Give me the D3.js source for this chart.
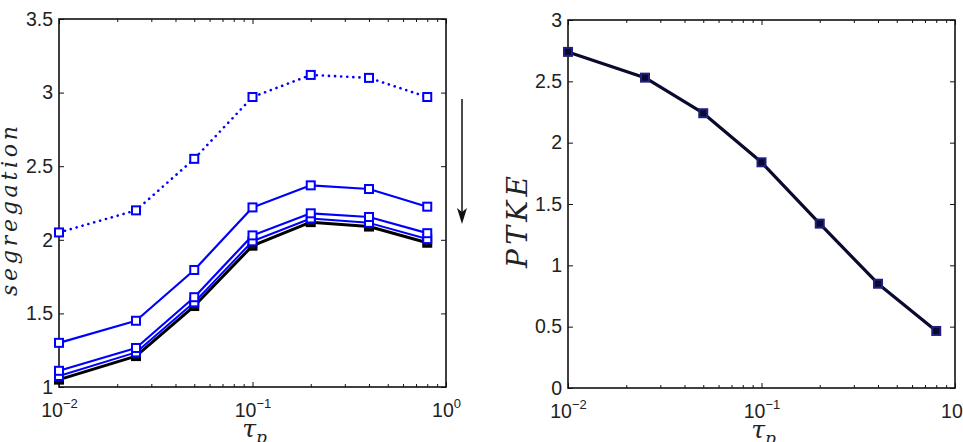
<!DOCTYPE html>
<html>
<head>
<meta charset="utf-8">
<script src="https://d3js.org/d3.v7.min.js"></script>
<style>
  html, body { margin: 0; padding: 0; background: #fff; }
  svg { display: block; }
  .tick text { font-family: "Liberation Sans", Arial, sans-serif; font-size: 19.5px; fill: #222; }
  .lbl { font-family: "DejaVu Serif", "Liberation Serif", serif; font-style: italic; fill: #222; }
</style>
</head>
<body>
<svg id="chart" width="963" height="442"></svg>
<script>
// particle response time (x values, both panels)
const tauP = [0.01, 0.025, 0.05, 0.1, 0.2, 0.4, 0.8];

// left panel: segregation, top curve first (arrow points down through the set)
const segDotted = [2.05, 2.20, 2.55, 2.97, 3.12, 3.10, 2.97];
const segBlueA  = [1.30, 1.45, 1.795, 2.22, 2.37, 2.345, 2.225];
const segBlueB  = [1.11, 1.265, 1.61, 2.03, 2.18, 2.155, 2.045];
const segBlueC  = [1.075, 1.235, 1.575, 1.99, 2.145, 2.115, 2.005];
const segBlack  = [1.05, 1.21, 1.55, 1.96, 2.12, 2.09, 1.98];

// right panel: PTKE
const ptke = [2.74, 2.53, 2.24, 1.84, 1.34, 0.85, 0.465];

const segTicks = [1, 1.5, 2, 2.5, 3, 3.5];
const ptkeTicks = [0, 0.5, 1, 1.5, 2, 2.5, 3];
const xMajor = [0.01, 0.1, 1];
const xMinor = [];
[0.01, 0.1].forEach(d => { for (let k = 2; k <= 9; k++) xMinor.push(d * k); });

const svg = d3.select('#chart');

function drawPanel(opts) {
    const { left, top, width, height, yDomain, yTicks, yLabel, yLabelX, yLabelLen } = opts;
    const g = svg.append('g').attr('transform', `translate(${left},${top})`);

    const x = d3.scaleLog().domain([0.01, 1]).range([0, width]);
    const y = d3.scaleLinear().domain(yDomain).range([height, 0]);

    // minor x ticks (bottom + top)
    g.append('g').attr('transform', `translate(0,${height})`)
        .call(d3.axisBottom(x).tickValues(xMinor).tickSize(-3).tickFormat(''))
        .call(s => s.select('.domain').remove());
    g.append('g')
        .call(d3.axisTop(x).tickValues(xMinor).tickSize(-3).tickFormat(''))
        .call(s => s.select('.domain').remove());

    // major x ticks with 10^n labels
    const xb = g.append('g').attr('transform', `translate(0,${height})`)
        .call(d3.axisBottom(x).tickValues(xMajor).tickSize(-5).tickPadding(16));
    xb.select('.domain').remove();
    xb.selectAll('.tick text').each(function (d) {
        const t = d3.select(this).text(null);
        const e = Math.round(Math.log10(d));
        t.append('tspan').text('10');
        t.append('tspan').attr('dy', -9).style('font-size', '13px')
            .text(e < 0 ? '\u2212' + (-e) : String(e));
    });
    g.append('g')
        .call(d3.axisTop(x).tickValues(xMajor).tickSize(-5).tickFormat(''))
        .call(s => s.select('.domain').remove());

    // y ticks left (labelled) and right
    g.append('g')
        .call(d3.axisLeft(y).tickValues(yTicks).tickSize(-5).tickPadding(6).tickFormat(d3.format('')))
        .call(s => s.select('.domain').remove());
    g.append('g').attr('transform', `translate(${width},0)`)
        .call(d3.axisRight(y).tickValues(yTicks).tickSize(-5).tickFormat(''))
        .call(s => s.select('.domain').remove());

    g.selectAll('.tick line').attr('stroke', '#111').attr('stroke-width', 1);

    // box
    g.append('rect').attr('width', width).attr('height', height)
        .attr('fill', 'none').attr('stroke', '#111').attr('stroke-width', 1.6);

    // x label tau_p
    const xl = svg.append('text').attr('class', 'lbl')
        .attr('x', left + width / 2 + 2).attr('y', top + height + 50)
        .attr('text-anchor', 'middle').style('font-size', '25px');
    xl.append('tspan').text('\u03C4');
    xl.append('tspan').attr('dy', 6).style('font-size', '17px').text('p');

    // y label
    svg.append('text').attr('class', 'lbl')
        .attr('transform', `translate(${yLabelX},${top + height / 2 + opts.yLabelShift}) rotate(-90)`)
        .attr('text-anchor', 'middle')
        .attr('textLength', yLabelLen).attr('lengthAdjust', 'spacing')
        .style('font-size', opts.yLabelSize)
        .text(yLabel);

    return { g, x, y };
}

function drawSeries(p, values, style) {
    const line = d3.line().x((d, i) => p.x(tauP[i])).y(d => p.y(d));
    p.g.append('path').datum(values)
        .attr('d', line)
        .attr('fill', 'none')
        .attr('stroke', style.color)
        .attr('stroke-width', style.width)
        .attr('stroke-dasharray', style.dash || null)
        .attr('stroke-linecap', style.dash ? 'round' : 'butt')
        .attr('stroke-linejoin', 'round');
    const m = 8;
    p.g.append('g').selectAll('rect').data(values).join('rect')
        .attr('x', (d, i) => p.x(tauP[i]) - m / 2)
        .attr('y', d => p.y(d) - m / 2)
        .attr('width', m).attr('height', m)
        .attr('fill', style.fill || '#fff')
        .attr('stroke', style.marker || style.color)
        .attr('stroke-width', 2);
}

// left panel
const pL = drawPanel({
    left: 59, top: 19, width: 387, height: 368,
    yDomain: [1, 3.5], yTicks: segTicks,
    yLabel: 'segregation', yLabelX: 17, yLabelLen: 170, yLabelShift: 8, yLabelSize: '22px'
});
drawSeries(pL, segBlack,  { color: '#000', width: 3, fill: '#111', marker: '#000' });
drawSeries(pL, segBlueC,  { color: '#0000ff', width: 2 });
drawSeries(pL, segBlueB,  { color: '#0000ff', width: 2.2 });
drawSeries(pL, segBlueA,  { color: '#0000ff', width: 2.2 });
drawSeries(pL, segDotted, { color: '#0000ff', width: 2.6, dash: '0.1,6' });

// direction arrow
svg.append('line').attr('x1', 462).attr('y1', 99).attr('x2', 462).attr('y2', 218)
    .attr('stroke', '#111').attr('stroke-width', 1.5);
svg.append('path').attr('d', 'M457,208 L462,224 L467,208 L462,212 Z').attr('fill', '#111');

// right panel
const pR = drawPanel({
    left: 568, top: 20, width: 387, height: 368,
    yDomain: [0, 3], yTicks: ptkeTicks,
    yLabel: 'PTKE', yLabelX: 527, yLabelLen: 92, yLabelShift: 18, yLabelSize: '28px'
});
drawSeries(pR, ptke, { color: '#0a0a2e', width: 3.2, fill: '#0a0a2e', marker: '#202080' });
</script>
</body>
</html>
